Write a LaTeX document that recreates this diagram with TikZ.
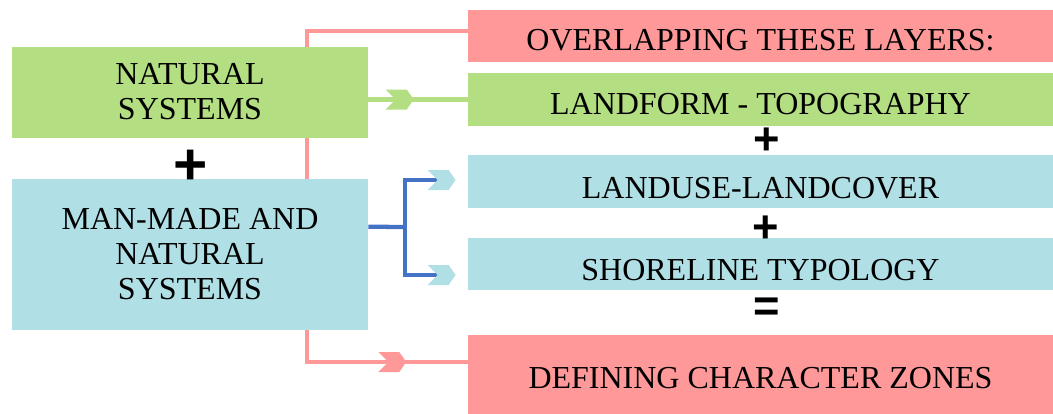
\documentclass[tikz,border=0pt]{standalone}
\usepackage{fontspec}
\setmainfont{Liberation Serif}
\newfontfamily\signfont{Liberation Sans}
\usetikzlibrary{calc,backgrounds,decorations.markings}
\definecolor{zonepink}{RGB}{255,153,153}
\definecolor{landgreen}{RGB}{179,222,129}
\definecolor{usecyan}{RGB}{176,224,230}
\definecolor{forkblue}{RGB}{68,114,196}
\tikzset{
	layer/.style={rectangle, fill=#1, inner sep=0pt, align=center, font=\fontsize{24}{26.25}\selectfont},
	row/.style={text depth=0pt, text height=#1},
	sign/.style={inner sep=0pt, font=\signfont\bfseries\fontsize{#1}{#1}\selectfont},
	link/.style={draw=#1, line width=3.2pt},
	chevron/.style 2 args={postaction={decorate}, decoration={markings, mark=at position #1 with {\fill[#2] (-14,-10) -- (7,-10) -- (14,0) -- (7,10) -- (-14,10) -- (-4,0) -- cycle;}}}
}
\begin{document}
\begin{tikzpicture}[x=0.75pt, y=-0.75pt]
	\useasboundingbox (0, 0) rectangle (1053, 414);
	\node[layer=landgreen, minimum width=267pt, minimum height=68.25pt] (natsys) at (190, 92) {NATURAL\\SYSTEMS};
	\node[layer=usecyan, minimum width=267pt, minimum height=113.25pt] (manmade) at (190, 254.5) {MAN-MADE AND\\NATURAL\\SYSTEMS};
	\node[layer=zonepink, minimum width=438.75pt, minimum height=39pt, row=21.75pt] (overlap) at (760.5, 36) {OVERLAPPING THESE LAYERS:};
	\node[layer=landgreen, minimum width=438.75pt, minimum height=39.75pt, row=21.75pt] (landform) at (760.5, 99.5) {LANDFORM - TOPOGRAPHY};
	\node[layer=usecyan, minimum width=438.75pt, minimum height=39.75pt, row=25.5pt] (landuse) at (760.5, 181.5) {LANDUSE-LANDCOVER};
	\node[layer=usecyan, minimum width=438.75pt, minimum height=39pt, row=24pt] (shoreline) at (760.5, 264) {SHORELINE TYPOLOGY};
	\node[layer=zonepink, minimum width=438.75pt, minimum height=59.25pt, row=21pt] (defining) at (760.5, 374.5) {DEFINING CHARACTER ZONES};
	\node[sign=44] (plusleft) at (191, 167) {+};
	\node[sign=34] (plusform) at (767, 141) {+};
	\node[sign=34] (plususe) at (766, 229) {+};
	\node[sign=34] (equals) at (767, 310) {=};
	\coordinate (fork) at (405, 227);
	\begin{scope}[on background layer]
		\draw[link=zonepink] ($(manmade.north west)+(295, 0)$) |- ($(overlap.west)+(0, -5)$);
		\draw[link=zonepink, chevron={-56.6pt}{zonepink}] ($(manmade.south west)+(295, 0)$) |- ($(defining.west)+(0, -12.5)$);
		\draw[link=landgreen, chevron={-51pt}{landgreen}] (natsys.east |- landform.west) -- (landform.west);
		\draw[link=forkblue] ($(manmade.north east)+(0, 48)$) -- (fork);
		\draw[link=forkblue, chevron={-0.1pt}{usecyan}] (fork) |- ($(landuse.west)+(-26, -1.5)$);
		\draw[link=forkblue, chevron={-0.1pt}{usecyan}] (fork) |- ($(shoreline.west)+(-26, 11)$);
	\end{scope}
\end{tikzpicture}
\end{document}
